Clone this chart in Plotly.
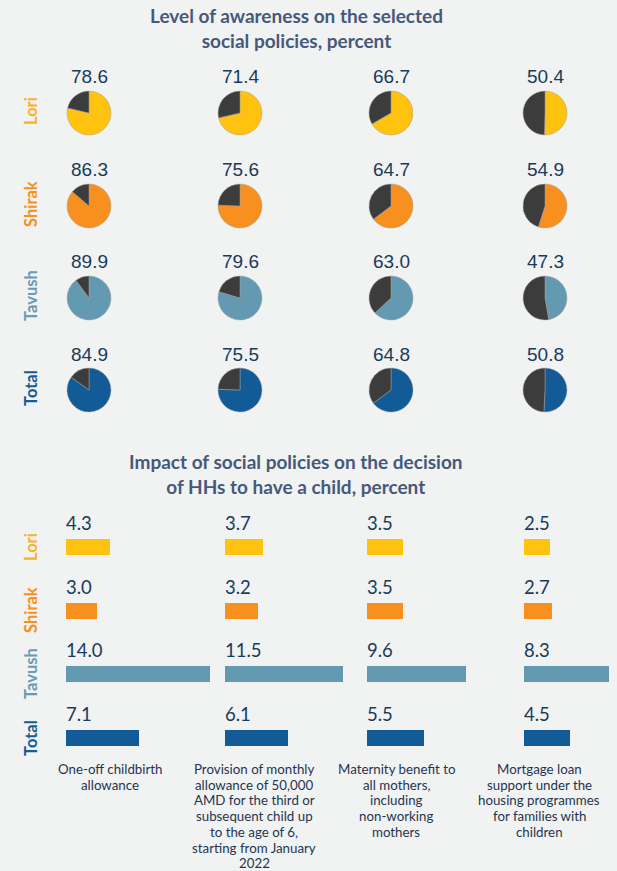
import plotly.graph_objects as go

# ---- data ----
regions = ["Lori", "Shirak", "Tavush", "Total"]
policies = [
    "One-off childbirth<br>allowance",
    "Provision of monthly<br>allowance of 50,000<br>AMD for the third or<br>subsequent child up<br>to the age of 6,<br>starting from January<br>2022",
    "Maternity benefit to<br>all mothers,<br>including<br>non-working<br>mothers",
    "Mortgage loan<br>support under the<br>housing programmes<br>for families with<br>children",
]
# awareness, percent (rows = regions, cols = policies)
awareness = {
    "Lori":   [78.6, 71.4, 66.7, 50.4],
    "Shirak": [86.3, 75.6, 64.7, 54.9],
    "Tavush": [89.9, 79.6, 63.0, 47.3],
    "Total":  [84.9, 75.5, 64.8, 50.8],
}
# impact on decision to have a child, percent
impact = {
    "Lori":   [4.3, 3.7, 3.5, 2.5],
    "Shirak": [3.0, 3.2, 3.5, 2.7],
    "Tavush": [14.0, 11.5, 9.6, 8.3],
    "Total":  [7.1, 6.1, 5.5, 4.5],
}
titles = [
    "Level of awareness on the selected<br>social policies, percent",
    "Impact of social policies on the decision<br>of HHs to have a child, percent",
]

# ---- styling ----
W, H = 617, 871
BG = "#f1f2f2"
fill_colors = {"Lori": "#FFC20E", "Shirak": "#F7901E", "Tavush": "#6399B1", "Total": "#125B96"}
label_colors = {"Lori": "#F8B32A", "Shirak": "#F7901E", "Tavush": "#6A9AB5", "Total": "#155D96"}
REST = "#3c3c3c"
NUM = "#1a3a5c"
TITLE = "#46597a"

def px(x):
    return x / W

def py(y):
    return 1 - y / H

fig = go.Figure()
annotations = []

# ---- pie grid ----
pie_cx = [89, 240, 391, 545]
pie_cy = [113, 206, 298, 390]
R = 22
for r, reg in enumerate(regions):
    for c in range(4):
        v = awareness[reg][c]
        cx, cy = pie_cx[c], pie_cy[r]
        fig.add_trace(go.Pie(
            values=[v, 100 - v],
            sort=False, direction="clockwise", rotation=0,
            marker=dict(colors=[fill_colors[reg], REST],
                        line=dict(color="#a0a0a0", width=0.5)),
            textinfo="none", hoverinfo="skip", showlegend=False,
            domain=dict(x=[px(cx - R), px(cx + R)], y=[py(cy + R), py(cy - R)]),
        ))
        annotations.append(dict(
            x=px(cx), y=py(cy - 36), xref="paper", yref="paper",
            text=f"{v:.1f}", showarrow=False, xanchor="center", yanchor="middle",
            font=dict(family="Liberation Sans, Arial", size=19, color=NUM),
        ))
    annotations.append(dict(
        x=px(31), y=py(pie_cy[r] - 2), xref="paper", yref="paper",
        text=f"<b>{reg}</b>", textangle=-90, showarrow=False,
        xanchor="center", yanchor="middle",
        font=dict(family="Lato", size=16.5, color=label_colors[reg]),
    ))

# ---- bar grid ----
bar_x0 = [65.5, 225, 366.5, 524]
bar_len = [150, 130, 150, 93]
PX_PER_UNIT = 10.3
row_top, row_bot = 515, 770
bar_rows = [547, 610, 674, 738]

for c in range(4):
    ax = "" if c == 0 else str(c + 1)
    for reg in regions:
        v = impact[reg][c]
        fig.add_trace(go.Bar(
            x=[v], y=[reg], orientation="h", width=0.25,
            marker=dict(color=fill_colors[reg], line=dict(width=0)),
            xaxis="x" + ax, yaxis="y", showlegend=False, hoverinfo="skip",
        ))
        annotations.append(dict(
            x=0, y=reg, xref="x" + ax, yref="y", text=f"{v:.1f}",
            showarrow=False, xanchor="left", yanchor="middle", yshift=24, xshift=-2,
            font=dict(family="Lato", size=18.5, color=NUM),
        ))
    fig.update_layout(**{
        "xaxis" + ax: dict(
            domain=[px(bar_x0[c]), px(bar_x0[c] + bar_len[c])],
            range=[0, bar_len[c] / PX_PER_UNIT],
            visible=False, fixedrange=True, anchor="y",
        )
    })

for r, reg in enumerate(regions):
    annotations.append(dict(
        x=px(31), y=py(bar_rows[r]), xref="paper", yref="paper",
        text=f"<b>{reg}</b>", textangle=-90, showarrow=False,
        xanchor="center", yanchor="middle",
        font=dict(family="Lato", size=16.5, color=label_colors[reg]),
    ))

# policy names under the columns, one line at a time for tight leading
label_cx = [110, 254, 396, 539]
LINE_Y0, LEADING = 769, 15.7
for c, name in enumerate(policies):
    for i, line in enumerate(name.split("<br>")):
        annotations.append(dict(
            x=px(label_cx[c]), y=py(LINE_Y0 + i * LEADING), xref="paper", yref="paper",
            text=line, showarrow=False, xanchor="center", yanchor="middle",
            font=dict(family="Lato", size=13.3, color="#1f3550"),
        ))

# section titles
for text, y in zip(titles, [28, 474]):
    annotations.append(dict(
        x=px(296), y=py(y), xref="paper", yref="paper", text=f"<b>{text}</b>",
        showarrow=False, xanchor="center", yanchor="middle", align="center",
        font=dict(family="Lato", size=19, color=TITLE),
    ))

fig.update_layout(
    width=W, height=H,
    margin=dict(l=0, r=0, t=0, b=0),
    paper_bgcolor=BG, plot_bgcolor="rgba(0,0,0,0)",
    yaxis=dict(
        domain=[py(row_bot), py(row_top)],
        categoryorder="array", categoryarray=regions,
        range=[3.5, -0.5], visible=False, fixedrange=True,
    ),
    bargap=0,
    annotations=annotations,
    showlegend=False,
)

fig.write_html("out.html", config={"displayModeBar": False})
